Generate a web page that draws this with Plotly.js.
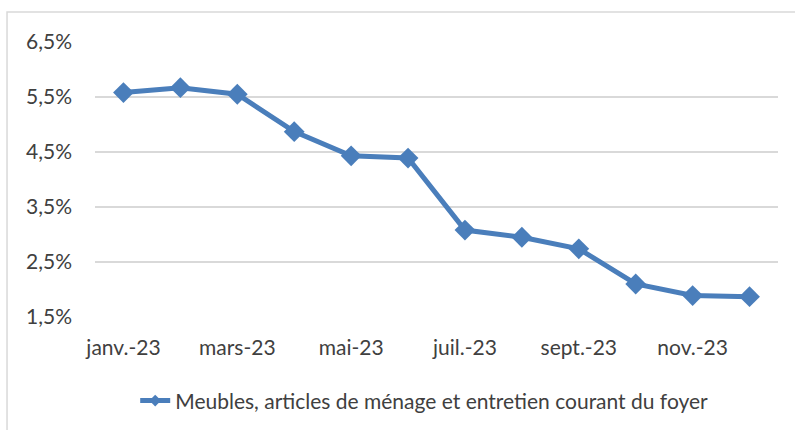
<!DOCTYPE html>
<html><head><meta charset="utf-8">
<script src="https://cdn.plot.ly/plotly-3.0.1.min.js"></script>
<style>html,body{margin:0;padding:0;background:#fff}#c{width:795px;height:430px}</style>
</head><body><div id="c"></div>
<script>
const months = ["janv.-23","févr.-23","mars-23","avr.-23","mai-23","juin-23","juil.-23","août-23","sept.-23","oct.-23","nov.-23","déc.-23"];
const values = [5.58,5.67,5.55,4.87,4.43,4.39,3.08,2.95,2.74,2.10,1.89,1.87];
const yTicks = [1.5,2.5,3.5,4.5,5.5,6.5];
const yTickText = ["1,5%","2,5%","3,5%","4,5%","5,5%","6,5%"];
const seriesName = "Meubles, articles de ménage et entretien courant du foyer";
const shownTicks = months.filter((m,i)=>i%2===0);

const font = "Lato, 'Open Sans', sans-serif";
const color = '#4A7EBB';
const trace = {
  x: months, y: values, type: 'scatter', mode: 'lines+markers', name: seriesName,
  showlegend: false,
  line: {color: color, width: 5},
  marker: {symbol: 'diamond', size: 16, color: color}
};
const legendTrace = {
  x: [null], y: [null], type: 'scatter', mode: 'lines+markers', name: seriesName,
  showlegend: true,
  line: {color: color, width: 5},
  marker: {symbol: 'diamond', size: 9, color: color}
};
const layout = {
  width: 795, height: 430,
  margin: {l: 95, r: 17, t: 42, b: 113, autoexpand: false},
  paper_bgcolor: '#fff', plot_bgcolor: '#fff',
  font: {family: font, size: 21, color: '#404040'},
  legend: {orientation: 'h', x: 0.482, xanchor: 'center', y: -0.305, yanchor: 'middle', font: {size: 21, color: '#404040'}},
  xaxis: {type: 'category', range: [-0.5, 11.5], tickvals: shownTicks, ticktext: shownTicks,
    showgrid: false, zeroline: false, showline: false, ticks: '', ticklabelstandoff: 16, fixedrange: true},
  yaxis: {range: [1.5, 6.5], tickvals: yTicks, ticktext: yTickText, showgrid: true, gridcolor: '#d9d9d9', gridwidth: 1.5,
    zeroline: false, showline: false, ticks: '', ticklabelstandoff: 22, fixedrange: true},
  shapes: [{type: 'rect', xref: 'paper', yref: 'paper', x0: -0.1288, x1: 1.2, y0: -0.5, y1: 1.109,
    line: {color: '#d9d9d9', width: 1.5}, fillcolor: 'rgba(0,0,0,0)', layer: 'below'}]
};
Plotly.newPlot('c', [trace, legendTrace], layout, {displayModeBar: false, staticPlot: true});
</script></body></html>
